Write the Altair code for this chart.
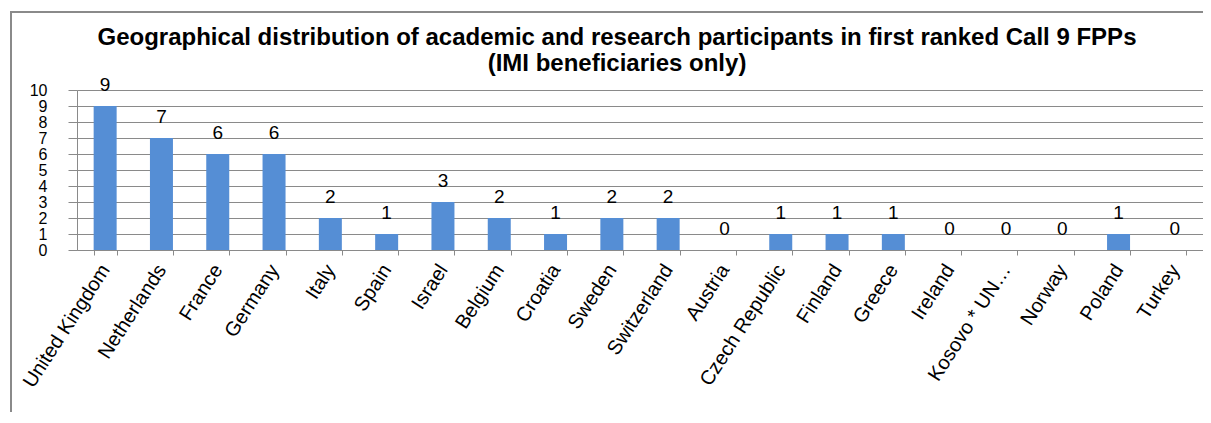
import altair as alt
import pandas as pd

countries = ["United Kingdom", "Netherlands", "France", "Germany", "Italy", "Spain",
             "Israel", "Belgium", "Croatia", "Sweden", "Switzerland", "Austria",
             "Czech Republic", "Finland", "Greece", "Ireland", "Kosovo * UN\u2026",
             "Norway", "Poland", "Turkey"]
participants = [9, 7, 6, 6, 2, 1, 3, 2, 1, 2, 2, 0, 1, 1, 1, 0, 0, 0, 1, 0]
y_ticks = list(range(0, 11))
title_lines = ["Geographical distribution of academic and research participants in first ranked Call 9 FPPs",
               "(IMI beneficiaries only)"]

df = pd.DataFrame({"country": countries, "value": participants})

W, H = 1126, 160
GRAY = "#8a8a8a"
FONT = "Liberation Sans"

x_enc = alt.X("country:N", sort=countries,
              scale=alt.Scale(paddingInner=0.59, paddingOuter=0.295),
              axis=alt.Axis(title=None, labelAngle=-57, labelAlign="right",
                            labelBaseline="middle", labelFontSize=20, labelFont=FONT,
                            labelColor="#000", labelPadding=11, tickBand="extent",
                            tickSize=5, tickColor=GRAY, domainColor=GRAY,
                            labelOverlap=False, labelBound=False, labelLimit=400))
y_enc = alt.Y("value:Q", scale=alt.Scale(domain=[0, 10], nice=False),
              axis=alt.Axis(title=None, values=y_ticks, labelFontSize=16, labelFont=FONT,
                            labelColor="#000", tickSize=9, tickColor=GRAY,
                            domainColor=GRAY, gridColor=GRAY, labelPadding=21,
                            labelOverlap=False, labelBound=False, labelFlush=False))

bars = alt.Chart(df).mark_bar(color="#558ED5", size=23).encode(x=x_enc, y=y_enc)
labels = alt.Chart(df).mark_text(fontSize=19, font=FONT, baseline="alphabetic",
                                 dy=-15, color="#000").encode(
    x=x_enc, y=y_enc, text="value:Q")

one = pd.DataFrame({"t1": [title_lines[0]], "t2": [title_lines[1]]})
frame = alt.Chart(one).mark_rect(fillOpacity=0, stroke=GRAY, strokeWidth=2).encode(
    x=alt.value(-66), x2=alt.value(1160), y=alt.value(-78), y2=alt.value(420))
t1 = alt.Chart(one).mark_text(fontSize=24, font=FONT, fontWeight="bold", color="#000",
                              align="center", baseline="alphabetic").encode(
    x=alt.value(540), y=alt.value(-45), text="t1:N")
t2 = alt.Chart(one).mark_text(fontSize=24, font=FONT, fontWeight="bold", color="#000",
                              align="center", baseline="alphabetic").encode(
    x=alt.value(540), y=alt.value(-19), text="t2:N")

chart = alt.layer(frame, bars, labels, t1, t2).properties(
    width=W, height=H,
    autosize=alt.AutoSizeParams(type="none"),
    padding={"left": 69, "top": 82, "right": 0, "bottom": 162},
).configure_view(stroke=None).configure(background="white")

chart.save("out.html", embed_options={"renderer": "svg", "actions": False})
